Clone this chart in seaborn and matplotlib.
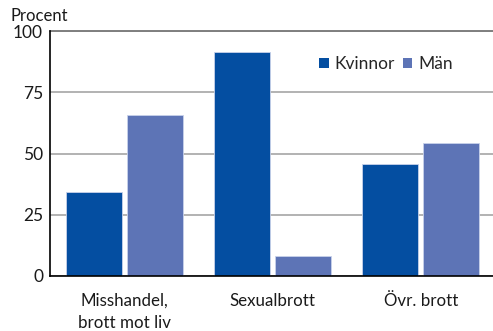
import matplotlib
matplotlib.use("Agg")
import matplotlib.pyplot as plt
import seaborn as sns
import pandas as pd

categories = ["Misshandel,\nbrott mot liv", "Sexualbrott", "Övr. brott"]
kvinnor = [34.4, 91.7, 45.8]
man = [65.6, 8.3, 54.2]
series_names = ["Kvinnor", "Män"]
colors = ["#044ea1", "#5d74b6"]
yticks = [0, 25, 50, 75, 100]

df = pd.DataFrame({
    "kategori": categories * 2,
    "kon": [series_names[0]] * 3 + [series_names[1]] * 3,
    "procent": kvinnor + man,
})

sns.set_theme(style="white")
plt.rcParams["font.family"] = ["Lato", "DejaVu Sans"]

fig = plt.figure(figsize=(4.93, 3.31), dpi=100)
ax = fig.add_axes([50 / 493, 1 - 276 / 331, 445 / 493, (276 - 31.3) / 331])

sns.barplot(data=df, x="kategori", y="procent", hue="kon",
            palette=colors, saturation=1, width=0.82, gap=0.08, ax=ax,
            edgecolor="#c8d2ea", linewidth=0.6, errorbar=None)

ax.set_ylim(0, 100)
ax.set_xlim(-0.5, 2.5)
ax.set_yticks(yticks)
ax.set_yticklabels([str(t) for t in yticks], fontsize=12.5, color="#1a1a1a")
ax.set_xticks(range(len(categories)))
ax.set_xticklabels(categories, fontsize=12.2, color="#1a1a1a", linespacing=1.45)
ax.tick_params(axis="x", length=0, pad=12)
ax.tick_params(axis="y", length=0, pad=5)
ax.set_xlabel("")
ax.set_ylabel("")

ax.yaxis.grid(True, color="#a6a6a6", linewidth=1.2)
ax.set_axisbelow(True)
for s in ["top", "right"]:
    ax.spines[s].set_visible(False)
ax.spines["left"].set_color("black")
ax.spines["bottom"].set_color("black")
ax.spines["left"].set_linewidth(1.2)
ax.spines["bottom"].set_linewidth(1.2)
ax.axhline(100, color="#7f7f7f", linewidth=1.4, clip_on=False)

leg = ax.legend(loc="center", bbox_to_anchor=(386 / 493, 1 - 64 / 331),
                bbox_transform=fig.transFigure, ncol=2, frameon=False,
                fontsize=12.5, handlelength=0.55, handleheight=0.55,
                handletextpad=0.35, columnspacing=0.45)
for h in leg.legend_handles:
    h.set_edgecolor("none")

fig.text(10 / 493, 1 - 16 / 331, "Procent", fontsize=12, color="#1a1a1a",
         va="center", ha="left")

fig.savefig("out.png", dpi=100)
